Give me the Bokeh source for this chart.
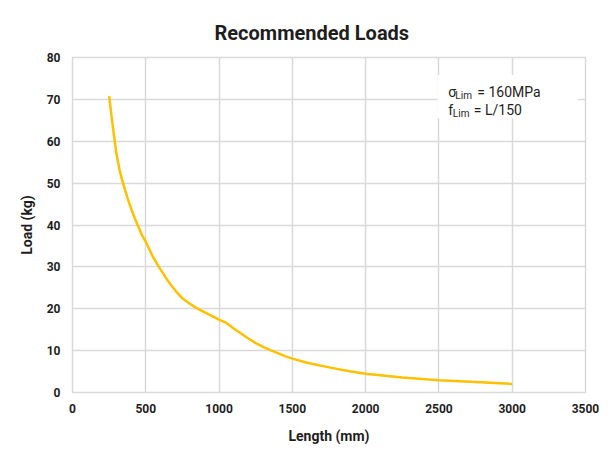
from bokeh.plotting import figure
from bokeh.models import FixedTicker, BoxAnnotation, Label, Range1d
from bokeh.embed import file_html
from bokeh.resources import INLINE

# ---- data ----
length_mm = [250, 275, 300, 325, 350, 375, 400, 425, 450, 475, 500,
             550, 600, 650, 700, 750, 800, 850, 900, 950, 1000,
             1050, 1100, 1150, 1200, 1250, 1300, 1350, 1400, 1450, 1500,
             1600, 1750, 1900, 2000, 2250, 2500, 2750, 3000]
load_kg = [70.8, 63.5, 57.0, 52.5, 49.4, 46.5, 43.9, 41.6, 39.5, 37.5, 36.0,
           32.3, 29.4, 26.7, 24.4, 22.5, 21.2, 20.1, 19.2, 18.3, 17.4,
           16.6, 15.3, 14.1, 12.9, 11.8, 10.9, 10.1, 9.4, 8.7, 8.1,
           7.1, 6.0, 5.0, 4.5, 3.6, 2.95, 2.5, 2.05]
x_ticks = [0, 500, 1000, 1500, 2000, 2500, 3000, 3500]
y_ticks = [0, 10, 20, 30, 40, 50, 60, 70, 80]

title_text = "Recommended Loads"
x_label = "Length (mm)"
y_label = "Load (kg)"
note_line1 = ("σ", "Lim", "= 160MPa")
note_line2 = ("f", "Lim", "= L/150")

FONT = "Roboto"
TEXT = "#1e1e1e"
GRID = "#d9d9d9"
LINE = "#FFC000"

p = figure(width=599, height=449, output_backend="svg", toolbar_location=None,
           x_range=Range1d(0, 3500), y_range=Range1d(0, 80),
           min_border_left=72, min_border_right=14,
           min_border_top=57, min_border_bottom=57)

p.title.text = title_text
p.title.align = "left"
p.title.offset = 142
p.title.standoff = 25
p.title.text_font = FONT
p.title.text_font_size = "20px"
p.title.text_font_style = "bold"
p.title.text_color = TEXT

for ax in (p.xaxis[0], p.yaxis[0]):
    ax.axis_line_color = None
    ax.major_tick_line_color = None
    ax.minor_tick_line_color = None
    ax.major_tick_out = 0
    ax.major_tick_in = 0
    ax.minor_tick_out = 0
    ax.major_label_text_font = FONT
    ax.major_label_text_font_style = "bold"
    ax.major_label_text_font_size = "12px"
    ax.major_label_text_color = TEXT
    ax.axis_label_text_font = FONT
    ax.axis_label_text_font_style = "bold"
    ax.axis_label_text_font_size = "14px"
    ax.axis_label_text_color = TEXT

p.xaxis[0].ticker = FixedTicker(ticks=x_ticks)
p.yaxis[0].ticker = FixedTicker(ticks=y_ticks)
p.xaxis[0].axis_label = x_label
p.yaxis[0].axis_label = y_label
p.xaxis[0].major_label_standoff = 11
p.xaxis[0].axis_label_standoff = 12
p.yaxis[0].major_label_standoff = 12
p.yaxis[0].axis_label_standoff = 9

for g in (p.xgrid[0], p.ygrid[0]):
    g.grid_line_color = GRID
    g.grid_line_width = 1.5
p.outline_line_color = GRID
p.outline_line_width = 1.5

p.line(length_mm, load_kg, line_color=LINE, line_width=2.5, line_join="round")

# white note box covering the grid lines
box_left, box_right, box_top, box_bottom = 2490, 3450, 75.8, 65.5
p.add_layout(BoxAnnotation(left=box_left, right=box_right, top=box_top, bottom=box_bottom,
                           fill_color="white", fill_alpha=1.0, line_color=None))

note_x = 2564
for (sym, sub, rest), base_y, offs in ((note_line1, 71.7, (0, 7, 29)),
                                       (note_line2, 67.4, (0, 4.5, 25.5))):
    p.add_layout(Label(x=note_x, y=base_y, x_offset=offs[0], text=sym, text_font=FONT,
                       text_font_size="14px", text_color=TEXT, text_baseline="alphabetic"))
    p.add_layout(Label(x=note_x, y=base_y, x_offset=offs[1], y_offset=-3, text=sub,
                       text_font=FONT, text_font_size="10px", text_color=TEXT,
                       text_baseline="alphabetic"))
    p.add_layout(Label(x=note_x, y=base_y, x_offset=offs[2], text=rest, text_font=FONT,
                       text_font_size="14px", text_color=TEXT, text_baseline="alphabetic"))

open("out.html", "w").write(file_html(p, INLINE))
